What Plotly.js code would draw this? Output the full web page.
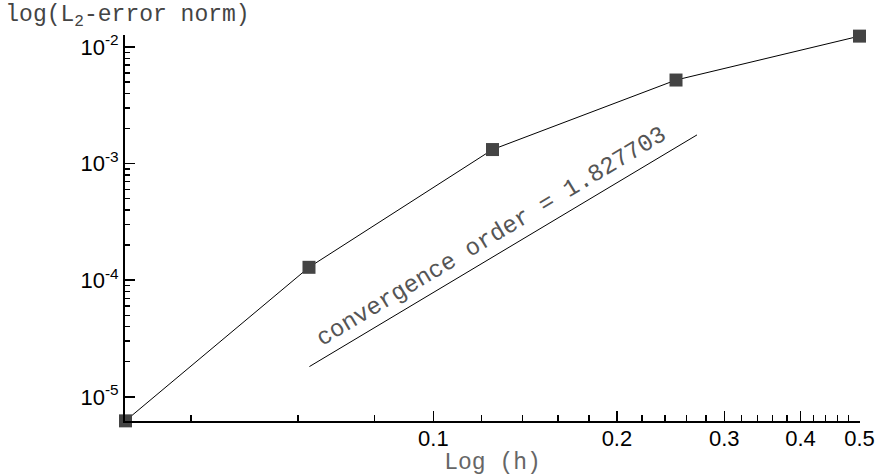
<!DOCTYPE html>
<html>
<head>
<meta charset="utf-8">
<script src="https://cdn.plot.ly/plotly-3.0.1.min.js"></script>
<style>html,body{margin:0;padding:0;background:#fff;}#chart{width:881px;height:476px;}</style>
</head>
<body>
<div id="chart"></div>
<script>
// Data
const h = [1/32, 1/16, 1/8, 1/4, 1/2];
const err = [6.22e-6, 1.29e-4, 1.32e-3, 5.21e-3, 1.24e-2];
const refH = [0.0626, 0.2706];
const refErr = [1.817e-5, 1.762e-3];
const orderLabel = 'convergence order = 1.827703';
const xTickVals = [0.1, 0.2, 0.3, 0.4, 0.5];
const xTickText = ['0.1', '0.2', '0.3', '0.4', '0.5'];
const xMinorVals = [0.04, 0.06, 0.08, 0.12, 0.14, 0.16, 0.18, 0.22, 0.24, 0.26, 0.28,
                    0.32, 0.34, 0.36, 0.38, 0.42, 0.44, 0.46, 0.48];
const yTickVals = [1e-5, 1e-4, 1e-3, 1e-2];
const yTickText = ['10<sup>-5</sup>', '10<sup>-4</sup>', '10<sup>-3</sup>', '10<sup>-2</sup>'];
const yMinorVals = [];
[1e-5, 1e-4, 1e-3].forEach(d => { for (let k = 2; k <= 9; k++) yMinorVals.push(k * d); });

const mono = 'Liberation Mono, Courier New, monospace';
const sans = 'Liberation Sans, Arial, sans-serif';

const traces = [
  {
    x: h, y: err, type: 'scatter', mode: 'lines+markers',
    line: {color: '#000', width: 1},
    marker: {symbol: 'square', size: 13, color: '#444444'},
    cliponaxis: false, showlegend: false
  },
  {
    x: refH, y: refErr, type: 'scatter', mode: 'lines',
    line: {color: '#000', width: 1}, showlegend: false
  }
];

const layout = {
  width: 881, height: 476,
  margin: {l: 125, r: 21, t: 35, b: 55, pad: 0},
  paper_bgcolor: '#fff', plot_bgcolor: '#fff',
  showlegend: false,
  title: {
    text: 'log(L<sub>2</sub>-error norm)',
    font: {family: mono, size: 23, color: '#444'},
    xref: 'container', yref: 'container',
    x: 0.006, xanchor: 'left', y: 0.989, yanchor: 'top'
  },
  xaxis: {
    type: 'log',
    range: [Math.log10(1/32) - 0.0008, Math.log10(0.5) + 0.0008],
    showgrid: false, zeroline: false,
    showline: true, linecolor: '#000', linewidth: 2,
    ticks: 'inside', ticklen: 10, tickwidth: 1.5, tickcolor: '#000',
    tickmode: 'array', tickvals: xTickVals, ticktext: xTickText,
    tickfont: {family: sans, size: 22, color: '#000'},
    ticklabelstandoff: -3,
    minor: {tickmode: 'array', tickvals: xMinorVals, ticks: 'inside', ticklen: 6, tickwidth: 1.5, tickcolor: '#000', showgrid: false},
    title: {text: 'Log (h)', font: {family: mono, size: 23, color: '#666'}, standoff: 0}
  },
  yaxis: {
    type: 'log',
    range: [-5.2075, -1.897],
    showgrid: false, zeroline: false,
    showline: true, linecolor: '#000', linewidth: 2,
    ticks: 'inside', ticklen: 10, tickwidth: 1.5, tickcolor: '#000',
    tickmode: 'array', tickvals: yTickVals, ticktext: yTickText,
    tickfont: {family: sans, size: 22, color: '#000'},
    minor: {tickmode: 'array', tickvals: yMinorVals, ticks: 'inside', ticklen: 5, tickwidth: 1.5, tickcolor: '#000', showgrid: false}
  },
  annotations: [{
    text: orderLabel,
    xref: 'x', yref: 'y',
    x: -0.904, y: -3.629,
    showarrow: false, textangle: -31,
    font: {family: mono, size: 24, color: '#555'}
  }]
};

Plotly.newPlot('chart', traces, layout, {staticPlot: true, displayModeBar: false});
</script>
</body>
</html>
